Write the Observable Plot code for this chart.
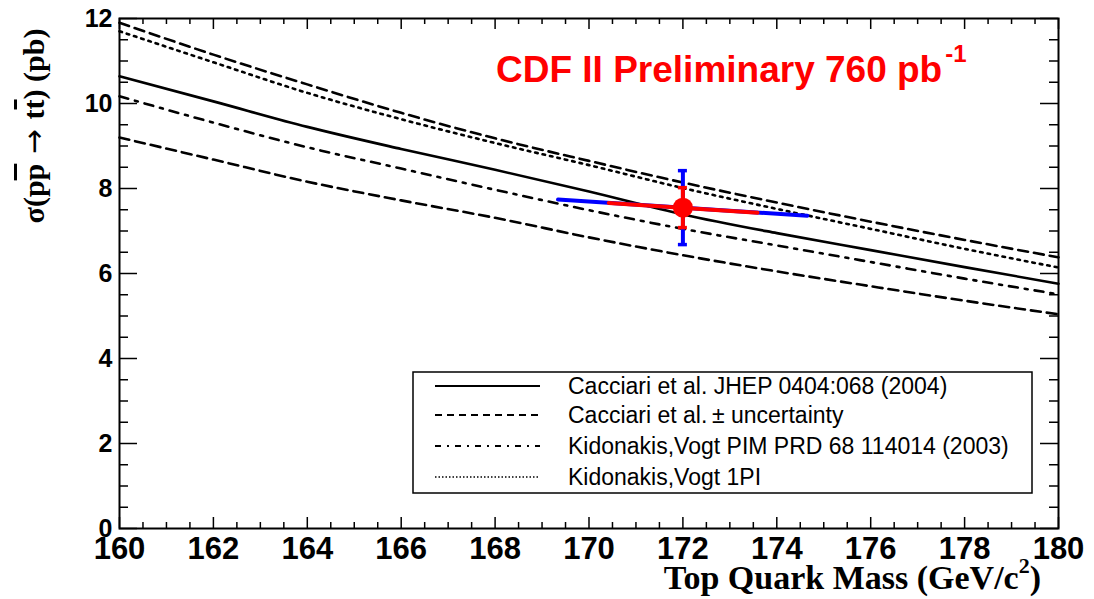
<!DOCTYPE html>
<html><head><meta charset="utf-8">
<script src="https://cdn.jsdelivr.net/npm/d3@7"></script>
<script src="https://cdn.jsdelivr.net/npm/@observablehq/plot@0.6"></script>
<style>body{margin:0;background:#fff;} #chart{width:1094px;height:599px;}</style>
</head><body><div id="chart"></div>
<script>
// Top quark mass grid (GeV/c^2)
const masses = [160, 162, 164, 166, 168, 170, 172, 174, 176, 178, 180];
// Theory curves, sigma(ppbar -> ttbar) in pb
const cacciari     = [10.64, 10.05, 9.45, 8.93, 8.44, 7.93, 7.39, 6.95, 6.55, 6.15, 5.76];
const cacciariUp   = [11.90, 11.15, 10.45, 9.78, 9.18, 8.65, 8.14, 7.67, 7.22, 6.79, 6.38];
const cacciariDown = [9.20, 8.68, 8.16, 7.72, 7.31, 6.85, 6.43, 6.05, 5.70, 5.36, 5.04];
const kidonakisPIM = [10.17, 9.55, 8.97, 8.47, 7.97, 7.49, 7.05, 6.66, 6.27, 5.88, 5.51];
const kidonakis1PI = [11.70, 10.97, 10.25, 9.63, 9.07, 8.55, 8.01, 7.52, 7.05, 6.58, 6.14];

// CDF measurement
const measMass = [172];
const measXs = [7.55];
const measStat = [0.47];
const measTotal = [0.87];
// Mass dependence of the measurement (full range blue, inner range red)
const depBlueMass = [169.34, 174.65];
const depBlueXs = [7.74, 7.36];
const depRedMass = [170.42, 173.59];
const depRedXs = [7.66, 7.43];

// Axis ticks
const xMajor = [160, 162, 164, 166, 168, 170, 172, 174, 176, 178, 180];
const xMinor = d3.range(160, 180.001, 0.5).filter(v => !xMajor.includes(v));
const yMajor = [0, 2, 4, 6, 8, 10, 12];
const yMinor = d3.range(0, 12.001, 0.5).filter(v => !yMajor.includes(v));

const legendItems = [
  {label: "Cacciari et al. JHEP 0404:068 (2004)", dash: null},
  {label: "Cacciari et al.\u2009\u00b1 uncertainty", dash: "7,5"},
  {label: "Kidonakis,Vogt PIM PRD 68 114014 (2003)", dash: "6,6,2,6"},
  {label: "Kidonakis,Vogt 1PI", dash: "1.5,2"}
];

const toRows = arr => masses.map((m, i) => ({m, xs: arr[i]}));
const meas = measMass.map((m, i) => ({m, xs: measXs[i], stat: measStat[i], tot: measTotal[i]}));
const depBlue = depBlueMass.map((m, i) => ({m, xs: depBlueXs[i]}));
const depRed = depRedMass.map((m, i) => ({m, xs: depRedXs[i]}));

const tickStyle = {stroke: "black", strokeWidth: 1.5};
const chart = Plot.plot({
  width: 1094, height: 599,
  marginLeft: 119, marginRight: 36, marginTop: 18, marginBottom: 71,
  x: {domain: [160, 180]},
  y: {domain: [0, 12]},
  style: {fontFamily: "'Liberation Sans', Arial, sans-serif", background: "white", color: "black"},
  marks: [
    Plot.axisX(xMajor, {tickSize: 0, tickPadding: 8, fontSize: 31, fontWeight: "bold", label: null}),
    Plot.axisY(yMajor, {tickSize: 0, tickPadding: 7, fontSize: 25, fontWeight: "bold", label: null}),
    // left & right y ticks (inward)
    Plot.ruleY(yMajor, {y: d => d, x1: 160, x2: 160, insetRight: -18, ...tickStyle}),
    Plot.ruleY(yMinor, {y: d => d, x1: 160, x2: 160, insetRight: -9, ...tickStyle}),
    Plot.ruleY(yMajor, {y: d => d, x1: 180, x2: 180, insetLeft: -18, ...tickStyle}),
    Plot.ruleY(yMinor, {y: d => d, x1: 180, x2: 180, insetLeft: -9, ...tickStyle}),
    // bottom & top x ticks (inward)
    Plot.ruleX(xMajor, {x: d => d, y1: 0, y2: 0, insetTop: -11, ...tickStyle}),
    Plot.ruleX(xMinor, {x: d => d, y1: 0, y2: 0, insetTop: -6, ...tickStyle}),
    Plot.ruleX(xMajor, {x: d => d, y1: 12, y2: 12, insetBottom: -11, ...tickStyle}),
    Plot.ruleX(xMinor, {x: d => d, y1: 12, y2: 12, insetBottom: -6, ...tickStyle}),
    // theory curves
    Plot.line(toRows(cacciariUp), {x: "m", y: "xs", stroke: "black", strokeWidth: 2.6, strokeDasharray: "10,6", curve: "monotone-x"}),
    Plot.line(toRows(cacciariDown), {x: "m", y: "xs", stroke: "black", strokeWidth: 2.6, strokeDasharray: "10,6", curve: "monotone-x"}),
    Plot.line(toRows(kidonakis1PI), {x: "m", y: "xs", stroke: "black", strokeWidth: 2.6, strokeDasharray: "2.6,5", curve: "monotone-x"}),
    Plot.line(toRows(kidonakisPIM), {x: "m", y: "xs", stroke: "black", strokeWidth: 2.6, strokeDasharray: "9,7,3,7", curve: "monotone-x"}),
    Plot.line(toRows(cacciari), {x: "m", y: "xs", stroke: "black", strokeWidth: 2.6, curve: "monotone-x"}),
    // measurement
    Plot.line(depBlue, {x: "m", y: "xs", stroke: "#0000ff", strokeWidth: 4}),
    Plot.line(depRed, {x: "m", y: "xs", stroke: "#ff0000", strokeWidth: 4}),
    Plot.ruleX(meas, {x: "m", y1: d => d.xs - d.tot, y2: d => d.xs + d.tot, stroke: "#0000ff", strokeWidth: 4}),
    Plot.ruleY(meas, {y: d => d.xs + d.tot, x1: "m", x2: "m", insetLeft: -4.5, insetRight: -4.5, stroke: "#0000ff", strokeWidth: 3.5}),
    Plot.ruleY(meas, {y: d => d.xs - d.tot, x1: "m", x2: "m", insetLeft: -4.5, insetRight: -4.5, stroke: "#0000ff", strokeWidth: 3.5}),
    Plot.ruleX(meas, {x: "m", y1: d => d.xs - d.stat, y2: d => d.xs + d.stat, stroke: "#ff0000", strokeWidth: 4}),
    Plot.ruleY(meas, {y: d => d.xs + d.stat, x1: "m", x2: "m", insetLeft: -4.5, insetRight: -4.5, stroke: "#ff0000", strokeWidth: 3.5}),
    Plot.ruleY(meas, {y: d => d.xs - d.stat, x1: "m", x2: "m", insetLeft: -4.5, insetRight: -4.5, stroke: "#ff0000", strokeWidth: 3.5}),
    Plot.dot(meas, {x: "m", y: "xs", r: 10, fill: "#ff0000", stroke: "none"}),
    Plot.frame({stroke: "black", strokeWidth: 2})
  ]
});
document.getElementById("chart").append(chart);

const svg = d3.select(chart);
// Title
const title = svg.append("text").attr("x", 496).attr("y", 82).attr("text-anchor", "start")
  .attr("fill", "#ff0000").attr("font-family", "'Liberation Sans', Arial, sans-serif")
  .attr("font-weight", "bold").attr("font-size", 37);
title.append("tspan").text("CDF II Preliminary 760 pb");
title.append("tspan").attr("dx", 3).attr("dy", -20).attr("font-size", 24).text("-1");

// Y axis label
const yl = svg.append("text").attr("transform", "translate(44,126) rotate(-90)")
  .attr("text-anchor", "middle").attr("font-family", "'Liberation Serif', 'Times New Roman', serif")
  .attr("font-weight", "bold").attr("font-size", 30).attr("fill", "black");
yl.append("tspan").text("\u03c3(p");
yl.append("tspan").style("text-decoration", "overline").text("p");
yl.append("tspan").attr("font-family", "'DejaVu Sans', sans-serif").attr("font-weight", "normal").text(" \u2192 ");
yl.append("tspan").text("t");
yl.append("tspan").style("text-decoration", "overline").text("t");
yl.append("tspan").text(") (pb)");

// X axis label
const xl = svg.append("text").attr("x", 1041).attr("y", 589).attr("text-anchor", "end")
  .attr("font-family", "'Liberation Serif', 'Times New Roman', serif")
  .attr("font-weight", "bold").attr("font-size", 34).attr("fill", "black");
xl.append("tspan").text("Top Quark Mass (GeV/c");
xl.append("tspan").attr("dy", -16).attr("font-size", 22).text("2");
xl.append("tspan").attr("dy", 16).text(")");

// Legend
const lg = svg.append("g").attr("text-anchor", "start");
lg.append("rect").attr("x", 413).attr("y", 372).attr("width", 619).attr("height", 121)
  .attr("fill", "white").attr("stroke", "black").attr("stroke-width", 1.5);
const rowY = [386, 415, 446, 477];
legendItems.forEach((it, i) => {
  const ln = lg.append("line").attr("x1", 435).attr("x2", 540).attr("y1", rowY[i]).attr("y2", rowY[i])
    .attr("stroke", "black").attr("stroke-width", it.dash === "1.5,2" ? 1.5 : 2);
  if (it.dash) ln.attr("stroke-dasharray", it.dash);
  lg.append("text").attr("x", 568).attr("y", rowY[i] + 8).attr("text-anchor", "start")
    .attr("font-family", "'Liberation Sans', Arial, sans-serif").attr("font-size", 23)
    .attr("fill", "black").text(it.label);
});
</script>
</body></html>
